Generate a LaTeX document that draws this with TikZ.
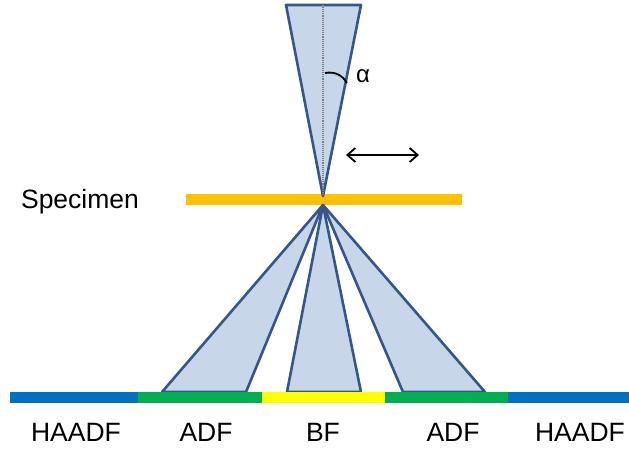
\documentclass[tikz,border=0pt]{standalone}
\usepackage{fontspec}
\setmainfont{Liberation Sans}
\usetikzlibrary{arrows.meta, calc}
\definecolor{conefill}{RGB}{200,214,234}
\definecolor{coneline}{RGB}{52,86,138}
\definecolor{specorange}{RGB}{255,192,0}
\definecolor{detblue}{RGB}{0,112,192}
\definecolor{detgreen}{RGB}{0,176,80}
\definecolor{detyellow}{RGB}{255,255,0}
\tikzstyle{cone} = [fill=conefill, draw=coneline, line width=2.6pt, line join=round]
\tikzstyle{bar} = [line width=10.5pt]
\tikzstyle{label} = [anchor=base, font=\fontsize{26.5}{30}\selectfont, inner sep=0pt]
\tikzstyle{arrow} = [line width=1.8pt, {Straight Barb[length=8pt,width=14pt]}-{Straight Barb[length=8pt,width=14pt]}]

\begin{document}
\begin{tikzpicture}[x=1pt, y=-1pt]
  \useasboundingbox (0,0) rectangle (629,449);

  % beam apex and cone edges
  \coordinate (tip)  at (323,196);
  \coordinate (fan)  at (323,205);
  \coordinate (tl)   at (286,5);
  \coordinate (tr)   at (361,5);
  \coordinate (tc)   at (323,5);

  % specimen
  \draw[bar, specorange] (186,199.5) -- (462,199.5);
  \node (spec) [label] at (80,209) {Specimen};

  % incident cone
  \draw[cone] (tl) -- (tr) -- (tip) -- cycle;
  \draw[gray, densely dotted, line width=1.1pt] (tc) -- (tip);
  \coordinate (a1) at (325,73);
  \coordinate (a2) at (347,83);
  \draw[line width=1.8pt] (a1) to[bend left=35] (a2);
  \node (alpha) at (363,76) {\fontsize{24}{28}\selectfont α};

  % scan direction
  \coordinate (sl) at (346,155);
  \coordinate (sr) at (419,155);
  \draw[arrow] (sl) -- (sr);

  % scattered cones
  \draw[cone] (fan) -- (162,392) -- (246,392) -- cycle;
  \draw[cone] (fan) -- (287,392) -- (361,392) -- cycle;
  \draw[cone] (fan) -- (403,392) -- (485,392) -- cycle;

  % detectors
  \draw[bar, detblue]   (10,397.5) -- (138,397.5);
  \draw[bar, detgreen]  (138,397.5) -- (262,397.5);
  \draw[bar, detyellow] (262,397.5) -- (385,397.5);
  \draw[bar, detgreen]  (385,397.5) -- (508,397.5);
  \draw[bar, detblue]   (508,397.5) -- (629,397.5);

  \node (haadfl) [label] at (76,441)  {HAADF};
  \node (adfl)   [label] at (206,441) {ADF};
  \node (bf)     [label] at (323,441) {BF};
  \node (adfr)   [label] at (453,441) {ADF};
  \node (haadfr) [label] at (580,441) {HAADF};
\end{tikzpicture}
\end{document}
